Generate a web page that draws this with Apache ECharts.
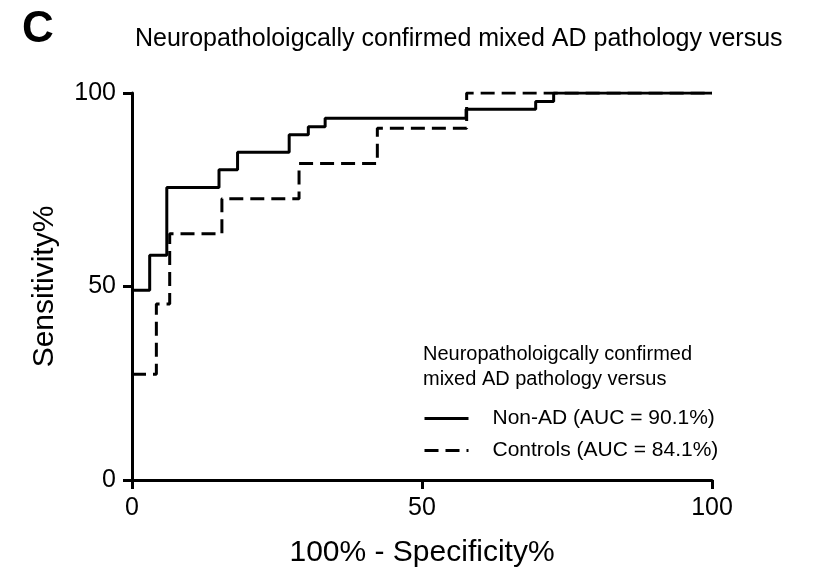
<!DOCTYPE html>
<html>
<head>
<meta charset="utf-8">
<script src="https://cdn.jsdelivr.net/npm/echarts@6/dist/echarts.min.js"></script>
<style>html,body{margin:0;padding:0;background:#fff}#c{width:821px;height:573px}</style>
</head>
<body>
<div id="c"></div>
<script>
// Non-AD ROC curve (100% - Specificity%, Sensitivity%)
var nonAdX = [0, 3.05, 6.0, 15.0, 18.2, 27.1, 30.4, 33.3, 57.6, 69.6, 72.7, 100];
var nonAdY = [49.0, 58.1, 75.6, 80.2, 84.7, 89.2, 91.3, 93.5, 95.8, 97.8, 100, 100];
// Controls ROC curve
var ctrlX = [0, 4.2, 6.5, 15.5, 28.8, 42.3, 57.7, 100];
var ctrlY = [27.3, 45.5, 63.6, 72.7, 81.8, 90.9, 100, 100];
var axisTicks = [0, 50, 100];
var seriesNames = ['Non-AD (AUC = 90.1%)', 'Controls (AUC = 84.1%)'];
var legendTitle = ['Neuropatholoigcally confirmed', 'mixed AD pathology versus'];
var chartTitle = 'Neuropatholoigcally confirmed mixed AD pathology versus';

function pairs(xs, ys) { return xs.map(function (x, i) { return [x, ys[i]]; }); }

var font = 'Liberation Sans, Arial, sans-serif';
var chart = echarts.init(document.getElementById('c'));
var axisCommon = {
  min: axisTicks[0], max: axisTicks[axisTicks.length - 1], interval: axisTicks[1] - axisTicks[0],
  splitLine: { show: false },
  axisLine: { show: true, lineStyle: { color: '#000', width: 3 } },
  axisTick: { show: true, length: 9, lineStyle: { color: '#000', width: 3 } },
  axisLabel: { color: '#000', fontSize: 25, fontFamily: font, margin: 16 },
  nameLocation: 'middle',
  nameTextStyle: { color: '#000', fontSize: 30, fontFamily: font }
};
chart.setOption({
  animation: false,
  backgroundColor: '#fff',
  title: [
    { text: 'C', left: 17, top: 3, textStyle: { fontSize: 44, fontWeight: 'bold', color: '#000', fontFamily: font } },
    { text: chartTitle, left: 130, top: 22, textStyle: { fontSize: 25, fontWeight: 'normal', color: '#000', fontFamily: font } }
  ],
  grid: { left: 132, right: 109, top: 93, bottom: 93, containLabel: false },
  xAxis: Object.assign({}, axisCommon, { type: 'value', name: '100% - Specificity%', nameGap: 58 }),
  yAxis: Object.assign({}, axisCommon, { type: 'value', name: 'Sensitivity%', nameGap: 72 }),
  legend: {
    orient: 'vertical', left: 418, top: 403, itemWidth: 44, itemHeight: 3, itemGap: 11,
    itemStyle: { opacity: 0 },
    lineStyle: { width: 3 },
    textStyle: { fontSize: 21, color: '#000', fontFamily: font, padding: [0, 0, 0, 19] },
    data: seriesNames
  },
  graphic: [{
    type: 'text', left: 423, top: 342,
    style: { text: legendTitle.join('\n'), fontSize: 20, lineHeight: 25, fill: '#000', fontFamily: font }
  }],
  series: [
    { name: seriesNames[1], type: 'line', step: 'end', symbol: 'none', data: pairs(ctrlX, ctrlY),
      lineStyle: { color: '#000', width: 3, type: [14, 7] }, itemStyle: { color: '#000' } },
    { name: seriesNames[0], type: 'line', step: 'end', symbol: 'none', data: pairs(nonAdX, nonAdY),
      lineStyle: { color: '#000', width: 3, type: 'solid' }, itemStyle: { color: '#000' } }
  ]
});
</script>
</body>
</html>
